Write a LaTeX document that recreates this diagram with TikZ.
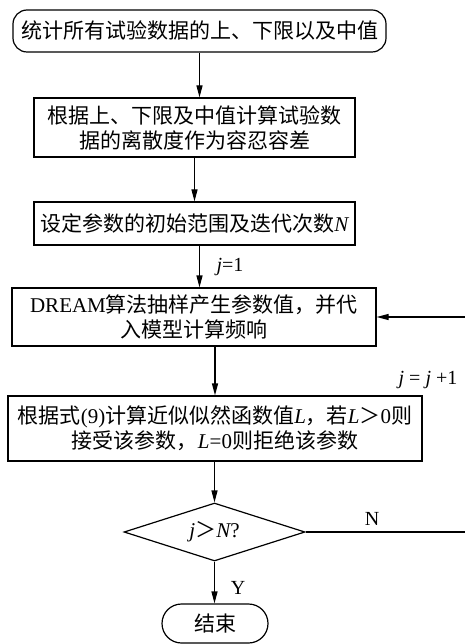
\documentclass[tikz,border=0pt]{standalone}
\usepackage{fontspec}
\setmainfont{Liberation Serif}
\newfontfamily\cjk{Noto Sans CJK SC}
\usetikzlibrary{shapes.geometric,arrows.meta}
\begin{document}
\begin{tikzpicture}[x=1pt,y=-1pt,
  base/.style={draw, line width=1.2pt, inner sep=0pt, align=center, font=\fontsize{21}{25}\selectfont\cjk},
  box/.style={base, rectangle},
  arr/.style={line width=1.2pt, -{Triangle[length=12pt,width=6pt]}},
  lbl/.style={font=\fontsize{20}{24}\selectfont\rmfamily, inner sep=0pt}]
\useasboundingbox (0,0) rectangle (464,644);
\node[box, rounded corners=14pt, minimum width=373pt, minimum height=42pt] (n1) at (199.5,31) {统计所有试验数据的上、下限以及中值};
\node[box, minimum width=321pt, minimum height=59pt] (n2) at (194.5,127.5) {根据上、下限及中值计算试验数\\据的离散度作为容忍容差};
\node[box, minimum width=321pt, minimum height=43pt] (n3) at (194.5,223.5) {设定参数的初始范围及迭代次数{\rmfamily\itshape N}};
\node[box, minimum width=364pt, minimum height=58pt] (n4) at (194,317) {{\rmfamily DREAM}算法抽样产生参数值，并代\\入模型计算频响};
\node[box, minimum width=414pt, minimum height=65pt] (n5) at (215,428.5) {根据式{\rmfamily (9)}计算近似似然函数值{\rmfamily\itshape L}，若{\rmfamily\itshape L}＞{\rmfamily 0}则\\接受该参数，{\rmfamily\itshape L}{\rmfamily =0}则拒绝该参数};
\node[base, diamond, aspect=3.1, minimum width=181pt, minimum height=58pt] (d) at (214.5,532) {{\rmfamily\itshape j}＞{\rmfamily\itshape N}{\rmfamily ?}};
\node[box, rounded corners=19.5pt, minimum width=106pt, minimum height=39pt] (e) at (215,623.5) {结束};
\coordinate (c1) at (470,532);
\coordinate (c2) at (470,317);
\draw[arr] (n1.south) -- (n1.south |- n2.north);
\draw[arr] (n2.south) -- (n3.north);
\draw[arr] (n3.south -| n1.south) -- (n1.south |- n4.north);
\draw[arr] (n5.north |- n4.south) -- (n5.north);
\draw[arr] (d.north |- n5.south) -- (d.north);
\draw[arr] (d.south) -- (d.south |- e.north);
\draw[arr] (d.east) -- (c1) -- (c2) -- (n4.east);
\node[lbl] (l1) at (230,267) {\itshape j\upshape =1};
\node[lbl] (l2) at (428,380) {\itshape j\upshape\ = \itshape j\upshape\ +1};
\node[lbl] (lN) at (372,519) {N};
\node[lbl] (lY) at (238,588) {Y};
\end{tikzpicture}
\end{document}
